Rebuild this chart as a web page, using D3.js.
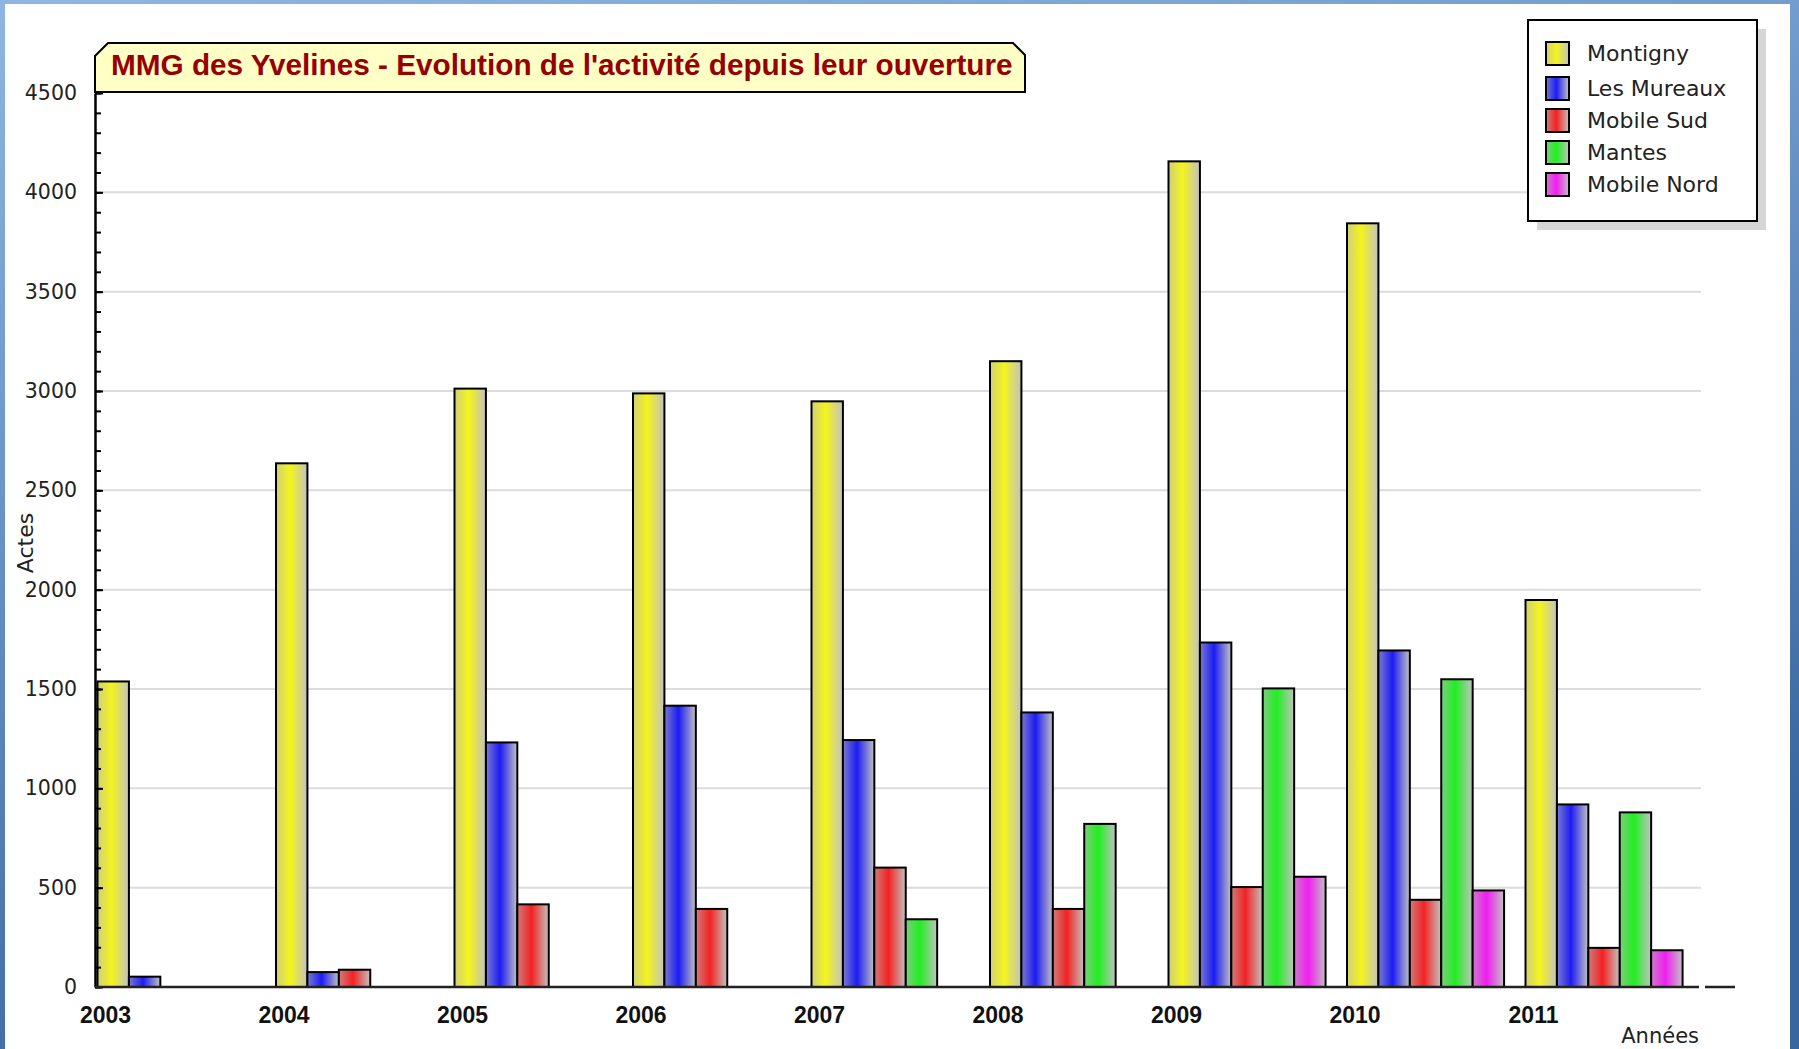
<!DOCTYPE html>
<html>
<head>
<meta charset="utf-8">
<title>MMG des Yvelines</title>
<script src="https://cdn.jsdelivr.net/npm/d3@7/dist/d3.min.js"></script>
<style>
  body { margin: 0; overflow: hidden; }
  svg { display: block; }
</style>
</head>
<body>
<svg id="chart" width="1799" height="1049"></svg>
<script>
// data
const years = ["2003", "2004", "2005", "2006", "2007", "2008", "2009", "2010", "2011"];
const seriesNames = ["Montigny", "Les Mureaux", "Mobile Sud", "Mantes", "Mobile Nord"];
const montigny   = [1538, 2636, 3012, 2988, 2948, 3150, 4156, 3844, 1948];
const lesMureaux = [52, 75, 1231, 1416, 1243, 1382, 1734, 1694, 919];
const mobileSud  = [0, 87, 416, 393, 601, 393, 503, 439, 197];
const mantes     = [0, 0, 0, 0, 341, 821, 1503, 1549, 879];
const mobileNord = [0, 0, 0, 0, 0, 0, 555, 486, 185];
const seriesValues = [montigny, lesMureaux, mobileSud, mantes, mobileNord];
const seriesColors = ["#f4f41c", "#1c1cf4", "#f42222", "#22ee22", "#f01ef0"];
const yMajor = [0, 500, 1000, 1500, 2000, 2500, 3000, 3500, 4000, 4500];
const titleText = "MMG des Yvelines - Evolution de l'activité depuis leur ouverture";

const svg = d3.select("#chart");
const defs = svg.append("defs");

// blue frame behind the white panel
const bg = defs.append("linearGradient").attr("id", "bg")
  .attr("x1", 0).attr("y1", 0).attr("x2", 0.35).attr("y2", 1);
bg.append("stop").attr("offset", "0%").attr("stop-color", "#8db6e2");
bg.append("stop").attr("offset", "100%").attr("stop-color", "#3a66a0");
svg.append("rect").attr("width", 1799).attr("height", 1049).attr("fill", "url(#bg)");
svg.append("rect").attr("x", 5).attr("y", 4).attr("width", 1785).attr("height", 1045).attr("fill", "#fff");

// bar gradients
seriesColors.forEach((c, i) => {
  const g = defs.append("linearGradient").attr("id", "grad" + i)
    .attr("x1", 0).attr("y1", 0).attr("x2", 1).attr("y2", 0);
  g.append("stop").attr("offset", "0%").attr("stop-color", d3.interpolateRgb(c, "#b8b8b8")(0.6));
  g.append("stop").attr("offset", "45%").attr("stop-color", c);
  g.append("stop").attr("offset", "100%").attr("stop-color", "#c2c2c2");
});

const pLeft = 95, pRight = 1702, pTop = 93, pBottom = 987;

const x0 = d3.scaleBand().domain(years).range([pLeft + 2.5, pLeft + 2.5 + 9 * 178.5]).padding(0);
const x1 = d3.scaleBand().domain(seriesNames).range([0, x0.bandwidth() * 0.88]).padding(0);
const y = d3.scaleLinear().domain([0, 4500]).range([pBottom, pTop]);

// grid
svg.append("g")
  .selectAll("line").data(yMajor.filter(v => v > 0 && v < 4500)).join("line")
  .attr("x1", pLeft).attr("x2", pRight - 1)
  .attr("y1", d => y(d)).attr("y2", d => y(d))
  .attr("stroke", "#dcdcdc").attr("stroke-width", 2);

// bars
const rows = years.map((yr, i) => ({ year: yr, vals: seriesNames.map((s, k) => ({ s, k, v: seriesValues[k][i] })) }));
svg.append("g").selectAll("g").data(rows).join("g")
  .attr("transform", d => `translate(${x0(d.year)},0)`)
  .selectAll("rect").data(d => d.vals.filter(e => e.v > 0)).join("rect")
  .attr("x", e => x1(e.s))
  .attr("y", e => y(e.v))
  .attr("width", x1.bandwidth())
  .attr("height", e => y(0) - y(e.v))
  .attr("fill", e => `url(#grad${e.k})`)
  .attr("stroke", "#000").attr("stroke-width", 2);

// y axis: minor + major ticks inside, labels on the left
const minor = d3.range(0, 4501, 100);
svg.append("g").attr("transform", `translate(${pLeft},0)`)
  .call(d3.axisLeft(y).tickValues(minor).tickSize(-6).tickSizeOuter(0).tickFormat(""))
  .call(g => g.select(".domain").attr("stroke-width", 2.5))
  .call(g => g.selectAll(".tick line").attr("stroke-width", 2));
svg.append("g").attr("transform", `translate(${pLeft},0)`)
  .call(d3.axisLeft(y).tickValues(yMajor).tickSize(-8).tickSizeOuter(0).tickPadding(18).tickFormat(d3.format("d")))
  .call(g => g.select(".domain").remove())
  .call(g => g.selectAll(".tick line").attr("stroke-width", 2))
  .call(g => g.selectAll("text").attr("font-family", "DejaVu Sans").attr("font-size", 20.5).attr("fill", "#222"));

// x axis
svg.append("line").attr("x1", pLeft).attr("x2", pRight - 3).attr("y1", pBottom).attr("y2", pBottom)
  .attr("stroke", "#222").attr("stroke-width", 2.5);
svg.append("line").attr("x1", pRight + 3).attr("x2", 1735).attr("y1", pBottom).attr("y2", pBottom)
  .attr("stroke", "#222").attr("stroke-width", 2.5);
svg.append("g").selectAll("text").data(years).join("text")
  .attr("x", d => x0(d) + 8).attr("y", 1023)
  .attr("text-anchor", "middle")
  .attr("font-family", "Liberation Sans, Arial").attr("font-weight", "bold").attr("font-size", 23)
  .attr("fill", "#111").text(d => d);

// axis titles
svg.append("text").attr("transform", "translate(33,543) rotate(-90)")
  .attr("text-anchor", "middle").attr("font-family", "DejaVu Sans").attr("font-size", 22)
  .attr("fill", "#222").text("Actes");
svg.append("text").attr("x", 1699).attr("y", 1043).attr("text-anchor", "end")
  .attr("font-family", "DejaVu Sans").attr("font-size", 21).attr("fill", "#222").text("Années");

// title box
svg.append("path")
  .attr("d", "M95,92 L95,56 L108,43 L1013,43 L1025,55 L1025,92 Z")
  .attr("fill", "#ffffc6").attr("stroke", "#000").attr("stroke-width", 2);
const title = svg.append("text").attr("x", 111).attr("y", 75)
  .attr("font-family", "Liberation Sans, Arial").attr("font-weight", "bold").attr("font-size", 25)
  .attr("fill", "#970000").text(titleText);
const tw = title.node().getComputedTextLength();
title.attr("font-size", 25 * 902 / tw);

// legend
svg.append("rect").attr("x", 1537).attr("y", 29).attr("width", 229).attr("height", 201).attr("fill", "#d6d6d6");
svg.append("rect").attr("x", 1528).attr("y", 20).attr("width", 229).attr("height", 201)
  .attr("fill", "#fff").attr("stroke", "#000").attr("stroke-width", 2);
const leg = svg.append("g").selectAll("g").data(seriesNames).join("g")
  .attr("transform", (d, i) => `translate(1546,${(i === 0 ? 53 : 56) + i * 32})`);
leg.append("rect").attr("x", 0).attr("y", -11).attr("width", 23).attr("height", 23)
  .attr("fill", (d, i) => `url(#grad${i})`).attr("stroke", "#000").attr("stroke-width", 2);
leg.append("text").attr("x", 41).attr("y", 8)
  .attr("font-family", "DejaVu Sans").attr("font-size", 22).attr("fill", "#222").text(d => d);
</script>
</body>
</html>
